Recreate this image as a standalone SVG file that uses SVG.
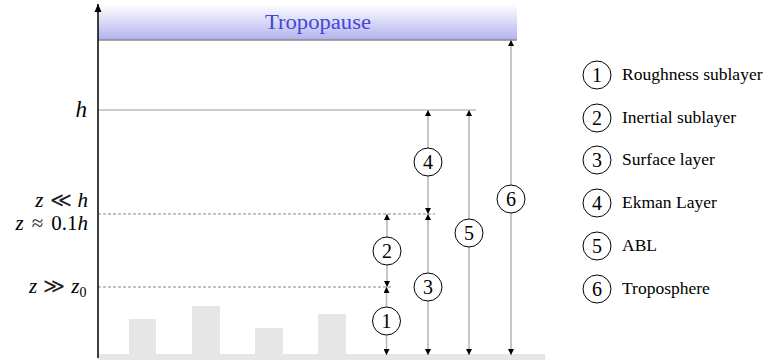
<svg xmlns="http://www.w3.org/2000/svg" width="775" height="363" viewBox="0 0 775 363">
<style>
.num{font-size:20px;text-anchor:middle;dominant-baseline:central;fill:#000}
.leg{font-size:17.5px;fill:#000}
.circ{fill:#fff;stroke:#000;stroke-width:1}
.arr{stroke:#b5b5b5;stroke-width:1.5;fill:none;marker-start:url(#ah);marker-end:url(#ah)}
.dash{stroke:#8a8a8a;stroke-width:1;stroke-dasharray:3 2;fill:none}
.bld{fill:#e6e6e6}
.mi{font-style:italic}
.rel{font-weight:normal;fill:#222}
</style>
<defs>
<linearGradient id="trop" x1="0" y1="0" x2="0" y2="1">
<stop offset="0" stop-color="#ffffff"/>
<stop offset="1" stop-color="#b2b2ee"/>
</linearGradient>
<marker id="ah" viewBox="0 0 6 6" refX="6" refY="3" markerWidth="6" markerHeight="6" markerUnits="userSpaceOnUse" orient="auto-start-reverse">
<path d="M0,0 L6,3 L0,6 z" fill="#000"/>
</marker>
<marker id="axh" viewBox="0 0 8 8" refX="8" refY="4" markerWidth="8" markerHeight="8" markerUnits="userSpaceOnUse" orient="auto">
<path d="M0,0.5 L8,4 L0,7.5 z" fill="#000"/>
</marker>
</defs>
<g font-family="'Liberation Serif','DejaVu Serif',serif">
<g id="tropopause">
<rect x="98" y="4" width="419" height="36" fill="url(#trop)"/>
<line x1="98" y1="40" x2="517" y2="40" stroke="#8a8a8a" stroke-width="1.5"/>
<text x="318" y="29" font-size="20" fill="#4646d6" text-anchor="middle" textLength="106" lengthAdjust="spacingAndGlyphs">Tropopause</text>
</g>
<g id="ground">
<rect x="98" y="354" width="447" height="6" class="bld"/>
<rect x="129" y="319" width="27" height="36" class="bld"/>
<rect x="192" y="306" width="28" height="49" class="bld"/>
<rect x="255" y="328" width="28" height="27" class="bld"/>
<rect x="318" y="314" width="28" height="41" class="bld"/>
</g>
<g id="levels">
<line x1="98" y1="110" x2="476" y2="110" stroke="#9a9a9a" stroke-width="1.2"/>
<line x1="98" y1="214" x2="435" y2="214" class="dash"/>
<line x1="98" y1="287" x2="393" y2="287" class="dash"/>
</g>
<g id="axis">
<line x1="98" y1="358" x2="98" y2="4" stroke="#000" stroke-width="1.5" marker-end="url(#axh)"/>
</g>
<g id="axis-labels" font-size="21" fill="#000">
<text class="mi" x="87" y="117" font-size="23" text-anchor="end">h</text>
<text x="88" y="207" text-anchor="end"><tspan class="mi">z</tspan><tspan class="rel" dx="6">≪</tspan><tspan class="mi" dx="6">h</tspan></text>
<text x="88" y="230" text-anchor="end"><tspan class="mi">z</tspan><tspan class="rel" dx="8">≈</tspan><tspan dx="8">0.1</tspan><tspan class="mi">h</tspan></text>
<text x="29" y="293"><tspan class="mi">z</tspan><tspan class="rel" dx="6">≫</tspan><tspan class="mi" dx="6">z</tspan><tspan font-size="14" dy="4">0</tspan></text>
</g>
<g id="connectors">
<line x1="386.5" y1="287" x2="386.5" y2="355" class="arr"/>
<line x1="387" y1="214" x2="387" y2="287" class="arr"/>
<line x1="428" y1="214" x2="428" y2="355" class="arr"/>
<line x1="428" y1="110" x2="428" y2="214" class="arr"/>
<line x1="469" y1="110" x2="469" y2="355" class="arr"/>
<line x1="511" y1="40" x2="511" y2="355" class="arr"/>
</g>
<g id="layer-1"><circle class="circ" cx="386.5" cy="321" r="14"/><text class="num" x="386.5" y="321">1</text></g>
<g id="layer-2"><circle class="circ" cx="387" cy="251" r="14"/><text class="num" x="387" y="251">2</text></g>
<g id="layer-3"><circle class="circ" cx="428" cy="287" r="14"/><text class="num" x="428" y="287">3</text></g>
<g id="layer-4"><circle class="circ" cx="428" cy="162" r="14"/><text class="num" x="428" y="162">4</text></g>
<g id="layer-5"><circle class="circ" cx="469" cy="233" r="14"/><text class="num" x="469" y="233">5</text></g>
<g id="layer-6"><circle class="circ" cx="511" cy="199" r="14"/><text class="num" x="511" y="199">6</text></g>
<g id="legend">
<g id="legend-1"><circle class="circ" cx="597" cy="75" r="14"/><text class="num" x="597" y="75">1</text><text class="leg" x="622" y="80">Roughness sublayer</text></g>
<g id="legend-2"><circle class="circ" cx="597" cy="118" r="14"/><text class="num" x="597" y="118">2</text><text class="leg" x="622" y="123">Inertial sublayer</text></g>
<g id="legend-3"><circle class="circ" cx="597" cy="160" r="14"/><text class="num" x="597" y="160">3</text><text class="leg" x="622" y="165">Surface layer</text></g>
<g id="legend-4"><circle class="circ" cx="597" cy="203" r="14"/><text class="num" x="597" y="203">4</text><text class="leg" x="622" y="208">Ekman Layer</text></g>
<g id="legend-5"><circle class="circ" cx="597" cy="246" r="14"/><text class="num" x="597" y="246">5</text><text class="leg" x="622" y="251">ABL</text></g>
<g id="legend-6"><circle class="circ" cx="597" cy="289" r="14"/><text class="num" x="597" y="289">6</text><text class="leg" x="622" y="294">Troposphere</text></g>
</g>
</g>
</svg>
